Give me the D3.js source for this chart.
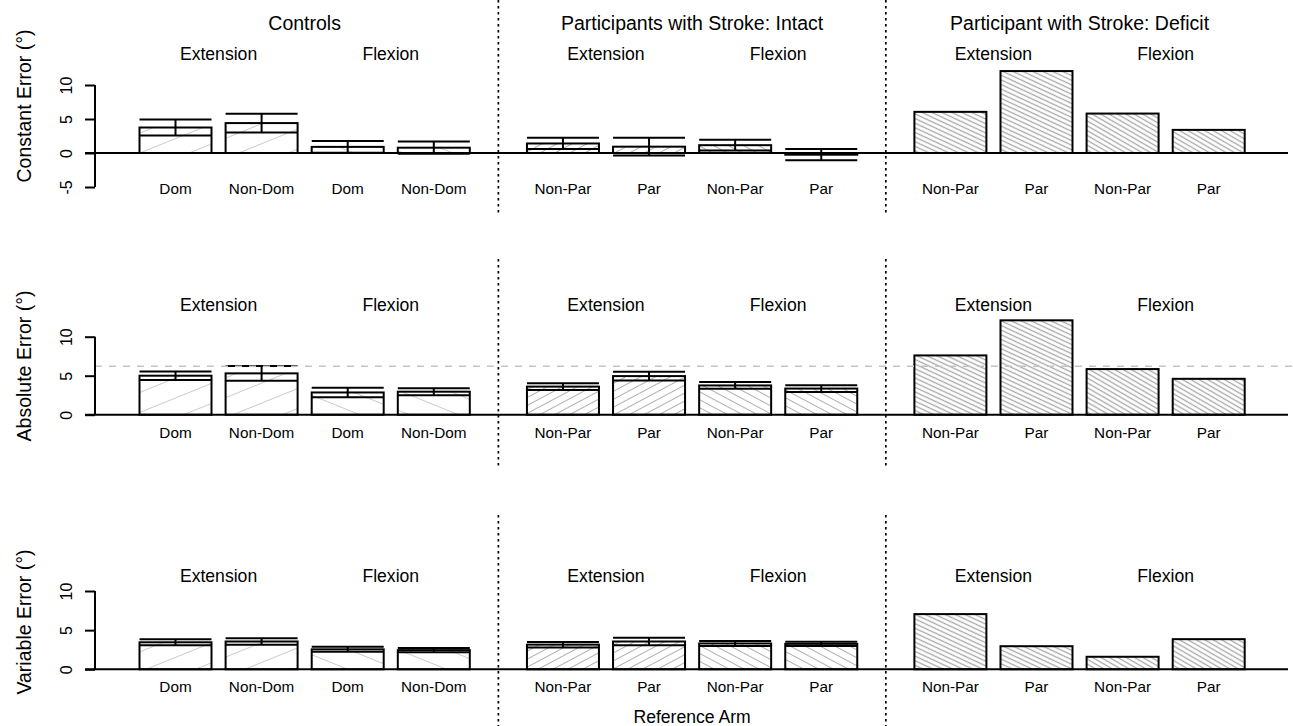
<!DOCTYPE html>
<html>
<head>
<meta charset="utf-8">
<script src="https://cdn.jsdelivr.net/npm/d3@7"></script>
<style>
  html, body { margin: 0; padding: 0; background: #fff; }
  svg { display: block; font-family: "Liberation Sans", Arial, Helvetica, sans-serif; }
</style>
</head>
<body>
<svg id="chart" width="1293" height="726"></svg>
<script>
// ---- data ----
const groups = ["Controls", "Participants with Stroke: Intact", "Participant with Stroke: Deficit"];
const directions = ["Extension", "Flexion"];
const armLabels = [["Dom", "Non-Dom"], ["Non-Par", "Par"], ["Non-Par", "Par"]];
const measures = ["Constant Error (°)", "Absolute Error (°)", "Variable Error (°)"];

// bar order: group -> direction -> arm (12 bars)
const constantMean = [3.75, 4.4, 0.9, 0.78, 1.4, 0.93, 1.15, -0.25, 6.05, 12.05, 5.8, 3.4];
const constantSE   = [1.17, 1.37, 0.86, 0.9, 0.83, 1.3, 0.8, 0.82, null, null, null, null];
const absoluteMean = [5.0, 5.3, 2.85, 2.95, 3.6, 4.95, 3.75, 3.35, 7.6, 12.1, 5.85, 4.6];
const absoluteSE   = [0.55, 0.95, 0.6, 0.45, 0.42, 0.55, 0.43, 0.43, null, null, null, null];
const variableMean = [3.45, 3.55, 2.55, 2.45, 3.15, 3.55, 3.3, 3.25, 7.05, 2.95, 1.6, 3.85];
const variableSE   = [0.38, 0.42, 0.32, 0.28, 0.35, 0.48, 0.32, 0.27, null, null, null, null];
const absoluteRef  = 6.2;

const ticksConstant = [-5, 0, 5, 10];
const ticksOther = [0, 5, 10];

// ---- layout ----
const svg = d3.select("#chart");
const W = 1293, H = 726;

// slot positions: 4 bars per group, 1.5-slot gap between groups
const slotOf = (g, k) => g * 4.5 + k;
const x = d3.scaleLinear().domain([0, 12]).range([175.5, 1208.7]);
const barW = 72;

const panels = [
  { label: measures[0], mean: constantMean, se: constantSE, ticks: ticksConstant,
    y: d3.scaleLinear().domain([-5, 10]).range([187, 85]),
    title: 23, sub: 54, arm: 188, ylabY: 106, seg: [0, 215], ref: null },
  { label: measures[1], mean: absoluteMean, se: absoluteSE, ticks: ticksOther,
    y: d3.scaleLinear().domain([0, 10]).range([414.7, 336.7]),
    title: null, sub: 305, arm: 432, ylabY: 366, seg: [259, 469], ref: absoluteRef },
  { label: measures[2], mean: variableMean, se: variableSE, ticks: ticksOther,
    y: d3.scaleLinear().domain([0, 10]).range([669.3, 591]),
    title: null, sub: 576, arm: 686, ylabY: 622, seg: [515, 726], ref: null }
];

// ---- hatch patterns ----
const hatch = [
  [{ sp: 18.5, ang: -22, col: "#cccccc" }, { sp: 18.5, ang: 22, col: "#cccccc" }],
  [{ sp: 7, ang: -28, col: "#b0b0b0" }, { sp: 7, ang: 28, col: "#b0b0b0" }],
  [{ sp: 4.2, ang: 25, col: "#a6a6a6" }, { sp: 4.2, ang: 30, col: "#a6a6a6" }]
];
const defs = svg.append("defs");
hatch.forEach((row, g) => row.forEach((h, d) => {
  const p = defs.append("pattern")
    .attr("id", `hatch-${g}-${d}`)
    .attr("patternUnits", "userSpaceOnUse")
    .attr("width", 40).attr("height", h.sp)
    .attr("patternTransform", `rotate(${h.ang})`);
  p.append("rect").attr("width", 40).attr("height", h.sp).attr("fill", "#fff");
  p.append("line").attr("x1", 0).attr("x2", 40)
    .attr("y1", h.sp / 2).attr("y2", h.sp / 2)
    .attr("stroke", h.col).attr("stroke-width", 1.1);
}));

// build bar records
function barsFor(panel) {
  const out = [];
  groups.forEach((gName, g) => {
    directions.forEach((dName, d) => {
      armLabels[g].forEach((a, k) => {
        const i = g * 4 + d * 2 + k;
        out.push({ g, d, arm: a, slot: slotOf(g, d * 2 + k), v: panel.mean[i], se: panel.se[i] });
      });
    });
  });
  return out;
}

panels.forEach((P, pi) => {
  const gP = svg.append("g");
  const y = P.y;
  const bars = barsFor(P);

  // bars
  gP.selectAll("rect.bar").data(bars).join("rect")
    .attr("class", "bar")
    .attr("x", b => x(b.slot) - barW / 2)
    .attr("width", barW)
    .attr("y", b => Math.min(y(b.v), y(0)))
    .attr("height", b => Math.abs(y(b.v) - y(0)))
    .attr("fill", b => `url(#hatch-${b.g}-${b.d})`)
    .attr("stroke", "#000").attr("stroke-width", 2);

  // error bars: caps spanning bar width plus a centre stem
  const eb = bars.filter(b => b.se != null);
  const ebG = gP.selectAll("g.eb").data(eb).join("g").attr("class", "eb")
    .attr("stroke", "#000").attr("stroke-width", 2);
  ebG.append("line")
    .attr("x1", b => x(b.slot)).attr("x2", b => x(b.slot))
    .attr("y1", b => y(b.v - b.se)).attr("y2", b => y(b.v + b.se));
  [-1, 1].forEach(s => {
    ebG.append("line")
      .attr("x1", b => x(b.slot) - barW / 2).attr("x2", b => x(b.slot) + barW / 2)
      .attr("y1", b => y(b.v + s * b.se)).attr("y2", b => y(b.v + s * b.se));
  });

  // baseline
  gP.append("line").attr("x1", 85).attr("x2", 1288)
    .attr("y1", y(0)).attr("y2", y(0))
    .attr("stroke", "#000").attr("stroke-width", 2);

  // reference line
  if (P.ref != null) {
    gP.append("line").attr("x1", 95).attr("x2", W)
      .attr("y1", y(P.ref)).attr("y2", y(P.ref))
      .attr("stroke", "#c4c4c4").attr("stroke-width", 1.5)
      .attr("stroke-dasharray", "7,7");
  }

  // y axis
  const axis = d3.axisLeft(y).tickValues(P.ticks).tickSize(10).tickPadding(8).tickFormat(d => String(d));
  const ax = gP.append("g").attr("transform", "translate(95,0)").call(axis)
    .attr("font-size", null).attr("font-family", null);
  ax.select(".domain").attr("stroke-width", 2).attr("d", `M-0,${y(d3.min(P.ticks))}V${y(d3.max(P.ticks))}`);
  ax.selectAll(".tick line").attr("stroke-width", 2);
  ax.selectAll(".tick text")
    .attr("x", null).attr("dy", null)
    .style("font-size", "16px").attr("fill", "#000")
    .attr("text-anchor", "middle").attr("dominant-baseline", "central")
    .attr("transform", "translate(-29,0) rotate(-90)");

  // y label
  gP.append("text")
    .attr("transform", `translate(24,${P.ylabY}) rotate(-90)`)
    .attr("text-anchor", "middle").attr("dominant-baseline", "central")
    .style("font-size", "19.5px").text(P.label);

  // arm labels
  gP.selectAll("text.arm").data(bars).join("text")
    .attr("class", "arm")
    .attr("x", b => x(b.slot)).attr("y", P.arm)
    .attr("text-anchor", "middle").attr("dominant-baseline", "central")
    .style("font-size", "15.3px").text(b => b.arm);

  // direction labels
  groups.forEach((gName, g) => {
    directions.forEach((dName, d) => {
      const cx = (x(slotOf(g, d * 2)) + x(slotOf(g, d * 2 + 1))) / 2;
      gP.append("text").attr("x", cx).attr("y", P.sub)
        .attr("text-anchor", "middle").attr("dominant-baseline", "central")
        .style("font-size", "17.6px").text(dName);
    });
    if (P.title != null) {
      const cx = (x(slotOf(g, 0)) + x(slotOf(g, 3))) / 2;
      gP.append("text").attr("x", cx).attr("y", P.title)
        .attr("text-anchor", "middle").attr("dominant-baseline", "central")
        .style("font-size", "19.5px").text(gName);
    }
  });

  // group separators
  [3.75, 8.25].forEach(s => {
    gP.append("line").attr("x1", x(s)).attr("x2", x(s))
      .attr("y1", P.seg[0]).attr("y2", P.seg[1])
      .attr("stroke", "#000").attr("stroke-width", 1.7)
      .attr("stroke-dasharray", "2.5,3.5");
  });
});

// x-axis title
svg.append("text")
  .attr("x", (x(slotOf(1, 0)) + x(slotOf(1, 3))) / 2).attr("y", 717)
  .attr("text-anchor", "middle").attr("dominant-baseline", "central")
  .style("font-size", "17.6px").text("Reference Arm");
</script>
</body>
</html>
